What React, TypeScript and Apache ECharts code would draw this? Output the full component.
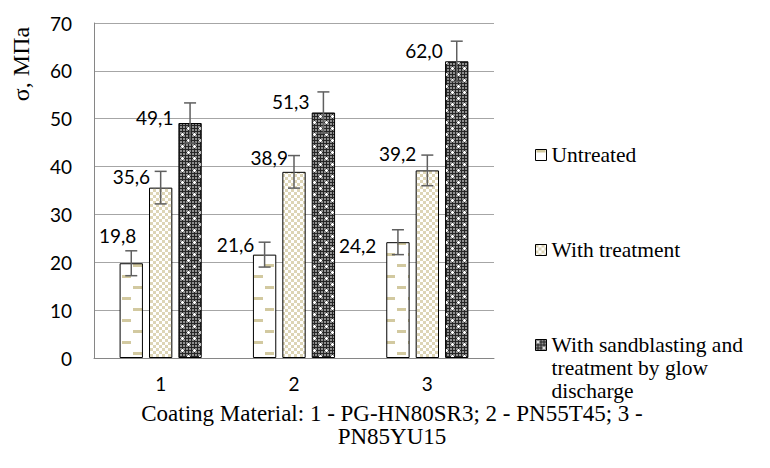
import React, { useEffect, useRef } from "react";
import * as echarts from "echarts";

const categories = ["1", "2", "3"];
const seriesNames = [
  "Untreated",
  "With treatment",
  "With sandblasting and\ntreatment by glow\ndischarge",
];
const untreated = [19.8, 21.6, 24.2];
const withTreatment = [35.6, 38.9, 39.2];
const sandblasted = [49.1, 51.3, 62.0];
const untreatedErr = [2.6, 2.6, 2.6];
const withTreatmentErr = [3.4, 3.4, 3.2];
const sandblastedErr = [4.2, 4.3, 4.2];
const yMin = 0;
const yMax = 70;
const yStep = 10;
const axisTitle = "σ, МПа";
const chartTitle = "Coating Material: 1 - PG-HN80SR3; 2 - PN55T45; 3 -\nPN85YU15";

// label offsets (px) relative to each bar's top-left corner (style, not data)
const labelOffsets = [
  [[16.7, -27.6], [1.3, -10], [-10, 3.3]],
  [[1, -11.6], [5.6, -14], [0.7, -16.7]],
  [[-5, -5.6], [-2.3, -10.6], [-2.4, -10.3]],
];

function makeCanvas(w: number, h: number, draw: (c: CanvasRenderingContext2D) => void) {
  const cv = document.createElement("canvas");
  cv.width = w;
  cv.height = h;
  const ctx = cv.getContext("2d")!;
  draw(ctx);
  return cv;
}

function patterns() {
  const p1 = makeCanvas(22, 22, (c) => {
    c.fillStyle = "#ffffff";
    c.fillRect(0, 0, 22, 22);
    c.fillStyle = "#d2c9a0";
    c.fillRect(1, 0, 9, 3);
    c.fillRect(12, 11, 9, 3);
  });
  const p2 = makeCanvas(6, 6, (c) => {
    c.fillStyle = "#ffffff";
    c.fillRect(0, 0, 6, 6);
    c.fillStyle = "#ddd5b6";
    c.fillRect(0, 0, 3, 3);
    c.fillRect(3, 3, 3, 3);
  });
  const p3 = makeCanvas(12, 12, (c) => {
    c.fillStyle = "#262626";
    c.fillRect(0, 0, 12, 12);
    c.fillStyle = "#8f8f8f";
    for (let x = 0; x < 12; x += 3) {
      for (let y = 0; y < 12; y += 3) {
        c.fillRect(x, y, 2, 2);
      }
    }
    c.fillStyle = "#ffffff";
    const cross = (cx: number, cy: number) => {
      c.fillRect(cx - 1, cy, 3, 1);
      c.fillRect(cx, cy - 1, 1, 3);
    };
    cross(2, 2);
    cross(8, 8);
  });
  return [p1, p2, p3].map((img) => ({ image: img, repeat: "repeat" as const }));
}

const fmt = (v: number) => v.toFixed(1).replace(".", ",");

export default function App() {
  const ref = useRef<HTMLDivElement>(null);
  useEffect(() => {
    if (!ref.current) return;
    const chart = echarts.init(ref.current, undefined, { renderer: "svg" });
    const pats = patterns();
    const values = [untreated, withTreatment, sandblasted];
    const errs = [untreatedErr, withTreatmentErr, sandblastedErr];
    const sans = "Lato";
    const serif = "Liberation Serif";

    const barSeries = values.map((vals, s) => ({
      type: "bar",
      name: seriesNames[s],
      barWidth: "17.5%",
      barGap: "26%",
      itemStyle: { color: pats[s], borderColor: "#000", borderWidth: 1 },
      label: {
        show: true,
        formatter: (p: any) => fmt(p.value),
        align: "right",
        verticalAlign: "middle",
        fontFamily: sans,
        fontSize: 19,
        color: "#000",
      },
      data: vals.map((v, i) => ({ value: v, label: { position: labelOffsets[s][i] } })),
    }));

    const errData: number[][] = [];
    values.forEach((vals, s) => vals.forEach((v, i) => errData.push([i, v, errs[s][i], s])));

    const legendTops = [143.5, 238.5, 287.5];
    const legends = seriesNames.map((n, s) => ({
      data: [n],
      left: 535,
      top: legendTops[s],
      orient: "vertical",
      padding: 0,
      itemWidth: 11,
      itemHeight: 11,
      icon: "rect",
      selectedMode: false,
      formatter: (name: string) => (s === 2 ? "\n\n" + name : name),
      itemStyle: { borderColor: "#000", borderWidth: 1 },
      textStyle: {
        fontFamily: serif,
        fontSize: 21.5,
        lineHeight: 23,
        color: "#000",
      },
    }));

    chart.setOption({
      animation: false,
      textStyle: { fontFamily: serif },
      title: {
        text: chartTitle,
        left: 392,
        top: 402,
        padding: 0,
        textAlign: "center",
        textStyle: {
          fontFamily: serif,
          fontSize: 23,
          fontWeight: "normal",
          lineHeight: 23,
          color: "#000",
        },
      },
      legend: legends,
      grid: { left: 94, right: 276, top: 23, bottom: 110 },
      xAxis: {
        type: "category",
        data: categories,
        axisTick: { show: false },
        axisLine: { lineStyle: { color: "#868686", width: 1 } },
        axisLabel: { fontFamily: sans, fontSize: 19, color: "#000", margin: 16 },
      },
      yAxis: {
        type: "value",
        min: yMin,
        max: yMax,
        interval: yStep,
        axisLine: { show: true, lineStyle: { color: "#868686", width: 1 } },
        axisTick: { show: false },
        splitLine: { lineStyle: { color: "#a6a6a6", width: 1 } },
        axisLabel: { fontFamily: sans, fontSize: 19, color: "#000", margin: 22 },
      },
      graphic: [
        {
          type: "text",
          x: 21,
          y: 64,
          rotation: Math.PI / 2,
          style: {
            text: axisTitle,
            fontFamily: serif,
            fontSize: 24,
            fill: "#000",
            align: "center",
            verticalAlign: "middle",
          },
        },
      ],
      series: [
        ...barSeries,
        {
          type: "custom",
          name: "error",
          silent: true,
          z: 10,
          encode: { x: 0, y: 1 },
          renderItem: (params: any, api: any) => {
            const cat = api.value(0);
            const v = api.value(1);
            const e = api.value(2);
            const s = api.value(3);
            const band = api.size([1, 0])[0];
            const bw = band * 0.175;
            const step = bw * 1.26;
            const c = api.coord([cat, v]);
            const x = c[0] + (s - 1) * step;
            const yt = api.coord([cat, v + e])[1];
            const yb = api.coord([cat, v - e])[1];
            const hw = 6;
            const style = { stroke: "#5f5f5f", lineWidth: 1.5 };
            return {
              type: "group",
              children: [
                { type: "line", shape: { x1: x, y1: yt, x2: x, y2: yb }, style },
                { type: "line", shape: { x1: x - hw, y1: yt, x2: x + hw, y2: yt }, style },
                { type: "line", shape: { x1: x - hw, y1: yb, x2: x + hw, y2: yb }, style },
              ],
            };
          },
          data: errData,
        },
      ],
    } as any);
    return () => chart.dispose();
  }, []);
  return (
    <div
      ref={ref}
      style={{ position: "fixed", left: 0, top: 0, width: 770, height: 468, background: "#fff" }}
    />
  );
}
